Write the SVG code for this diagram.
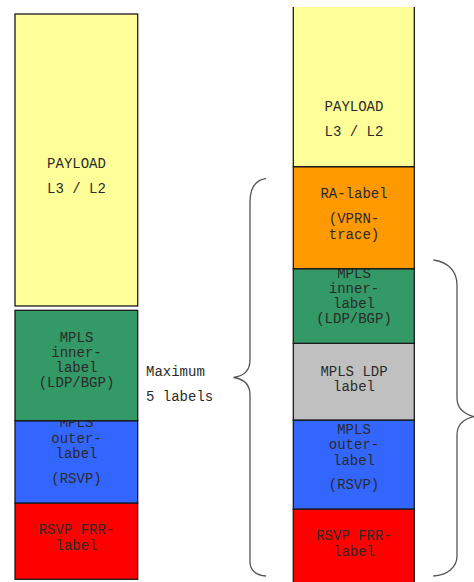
<svg xmlns="http://www.w3.org/2000/svg" width="474" height="582" viewBox="0 0 474 582">
<style>
.box{stroke:#1a1a1a;stroke-width:1.3}
.t{font-family:"Liberation Mono","Courier New",monospace;font-size:14px;fill:#2a2a2a;text-anchor:middle}
.l{font-family:"Liberation Mono","Courier New",monospace;font-size:14px;fill:#2a2a2a}
.brace{fill:none;stroke:#555;stroke-width:1.3}
</style>
<rect width="474" height="582" fill="#fff"/>
<!-- left stack -->
<g id="left-red"><rect class="box" x="15" y="503" width="122.7" height="76.3" fill="#FF0000"/>
<text class="t" x="76.5" y="534.3">RSVP FRR-</text><text class="t" x="76.5" y="550">label</text></g>
<g id="left-blue"><rect class="box" x="15" y="420.7" width="122.7" height="82.3" fill="#3366FF"/>
<text class="t" x="76.5" y="426.7">MPLS</text><text class="t" x="76.5" y="442.7">outer-</text><text class="t" x="76.5" y="458.3">label</text><text class="t" x="76.5" y="483.3">(RSVP)</text></g>
<g id="left-green"><rect class="box" x="15" y="310.3" width="122.7" height="110.4" fill="#339966"/>
<text class="t" x="76.5" y="341.7">MPLS</text><text class="t" x="76.5" y="356.7">inner-</text><text class="t" x="76.5" y="372">label</text><text class="t" x="76.5" y="387">(LDP/BGP)</text></g>
<g id="left-payload"><rect class="box" x="15" y="14" width="122.7" height="292" fill="#FFFF99"/>
<text class="t" x="76.5" y="168.3">PAYLOAD</text><text class="t" x="76.5" y="193.3">L3 / L2</text></g>
<g id="max-label"><text class="l" x="146" y="376">Maximum</text><text class="l" x="146" y="400.7">5 labels</text></g>
<!-- right stack -->
<g id="right-red"><rect class="box" x="293.3" y="509" width="121" height="90" fill="#FF0000"/>
<text class="t" x="354" y="540">RSVP FRR-</text><text class="t" x="354" y="556">label</text></g>
<g id="right-blue"><rect class="box" x="293.3" y="420" width="121" height="89" fill="#3366FF"/>
<text class="t" x="354" y="434">MPLS</text><text class="t" x="354" y="449.3">outer-</text><text class="t" x="354" y="465">label</text><text class="t" x="354" y="489.3">(RSVP)</text></g>
<g id="right-gray"><rect class="box" x="293.3" y="343.3" width="121" height="76.7" fill="#C0C0C0"/>
<text class="t" x="354" y="375.7">MPLS LDP</text><text class="t" x="354" y="390.7">label</text></g>
<g id="right-green"><rect class="box" x="293.3" y="268.7" width="121" height="74.6" fill="#339966"/>
<text class="t" x="354" y="278.3">MPLS</text><text class="t" x="354" y="293.3">inner-</text><text class="t" x="354" y="308.3">label</text><text class="t" x="354" y="323.3">(LDP/BGP)</text></g>
<g id="right-orange"><rect class="box" x="293.3" y="166.7" width="121" height="102" fill="#FF9900"/>
<text class="t" x="354" y="198.3">RA-label</text><text class="t" x="354" y="222.7">(VPRN-</text><text class="t" x="354" y="238.7">trace)</text></g>
<g id="right-payload"><rect x="293.3" y="7" width="121" height="159.7" fill="#FFFF99"/>
<path class="box" fill="none" d="M293.3,7 V166.7 H414.3 V7"/>
<text class="t" x="354" y="111">PAYLOAD</text><text class="t" x="354" y="136">L3 / L2</text></g>
<!-- braces -->
<g id="connectors">
<path class="brace" d="M266,178.3 C256,180 250,188 250,202 L250,360 C250,370 244,376 233.5,377.5 C244,379 250,385 250,395 L250,562 C250,570 256,575.5 266,576"/>
<path class="brace" d="M433.3,260 C448,262 457,271 457,285 L457,398 C457,408 464,414 474,416.7 C464,419 457,425 457,435 L457,556 C457,567 448,575 433.3,576"/>
</g>
</svg>
